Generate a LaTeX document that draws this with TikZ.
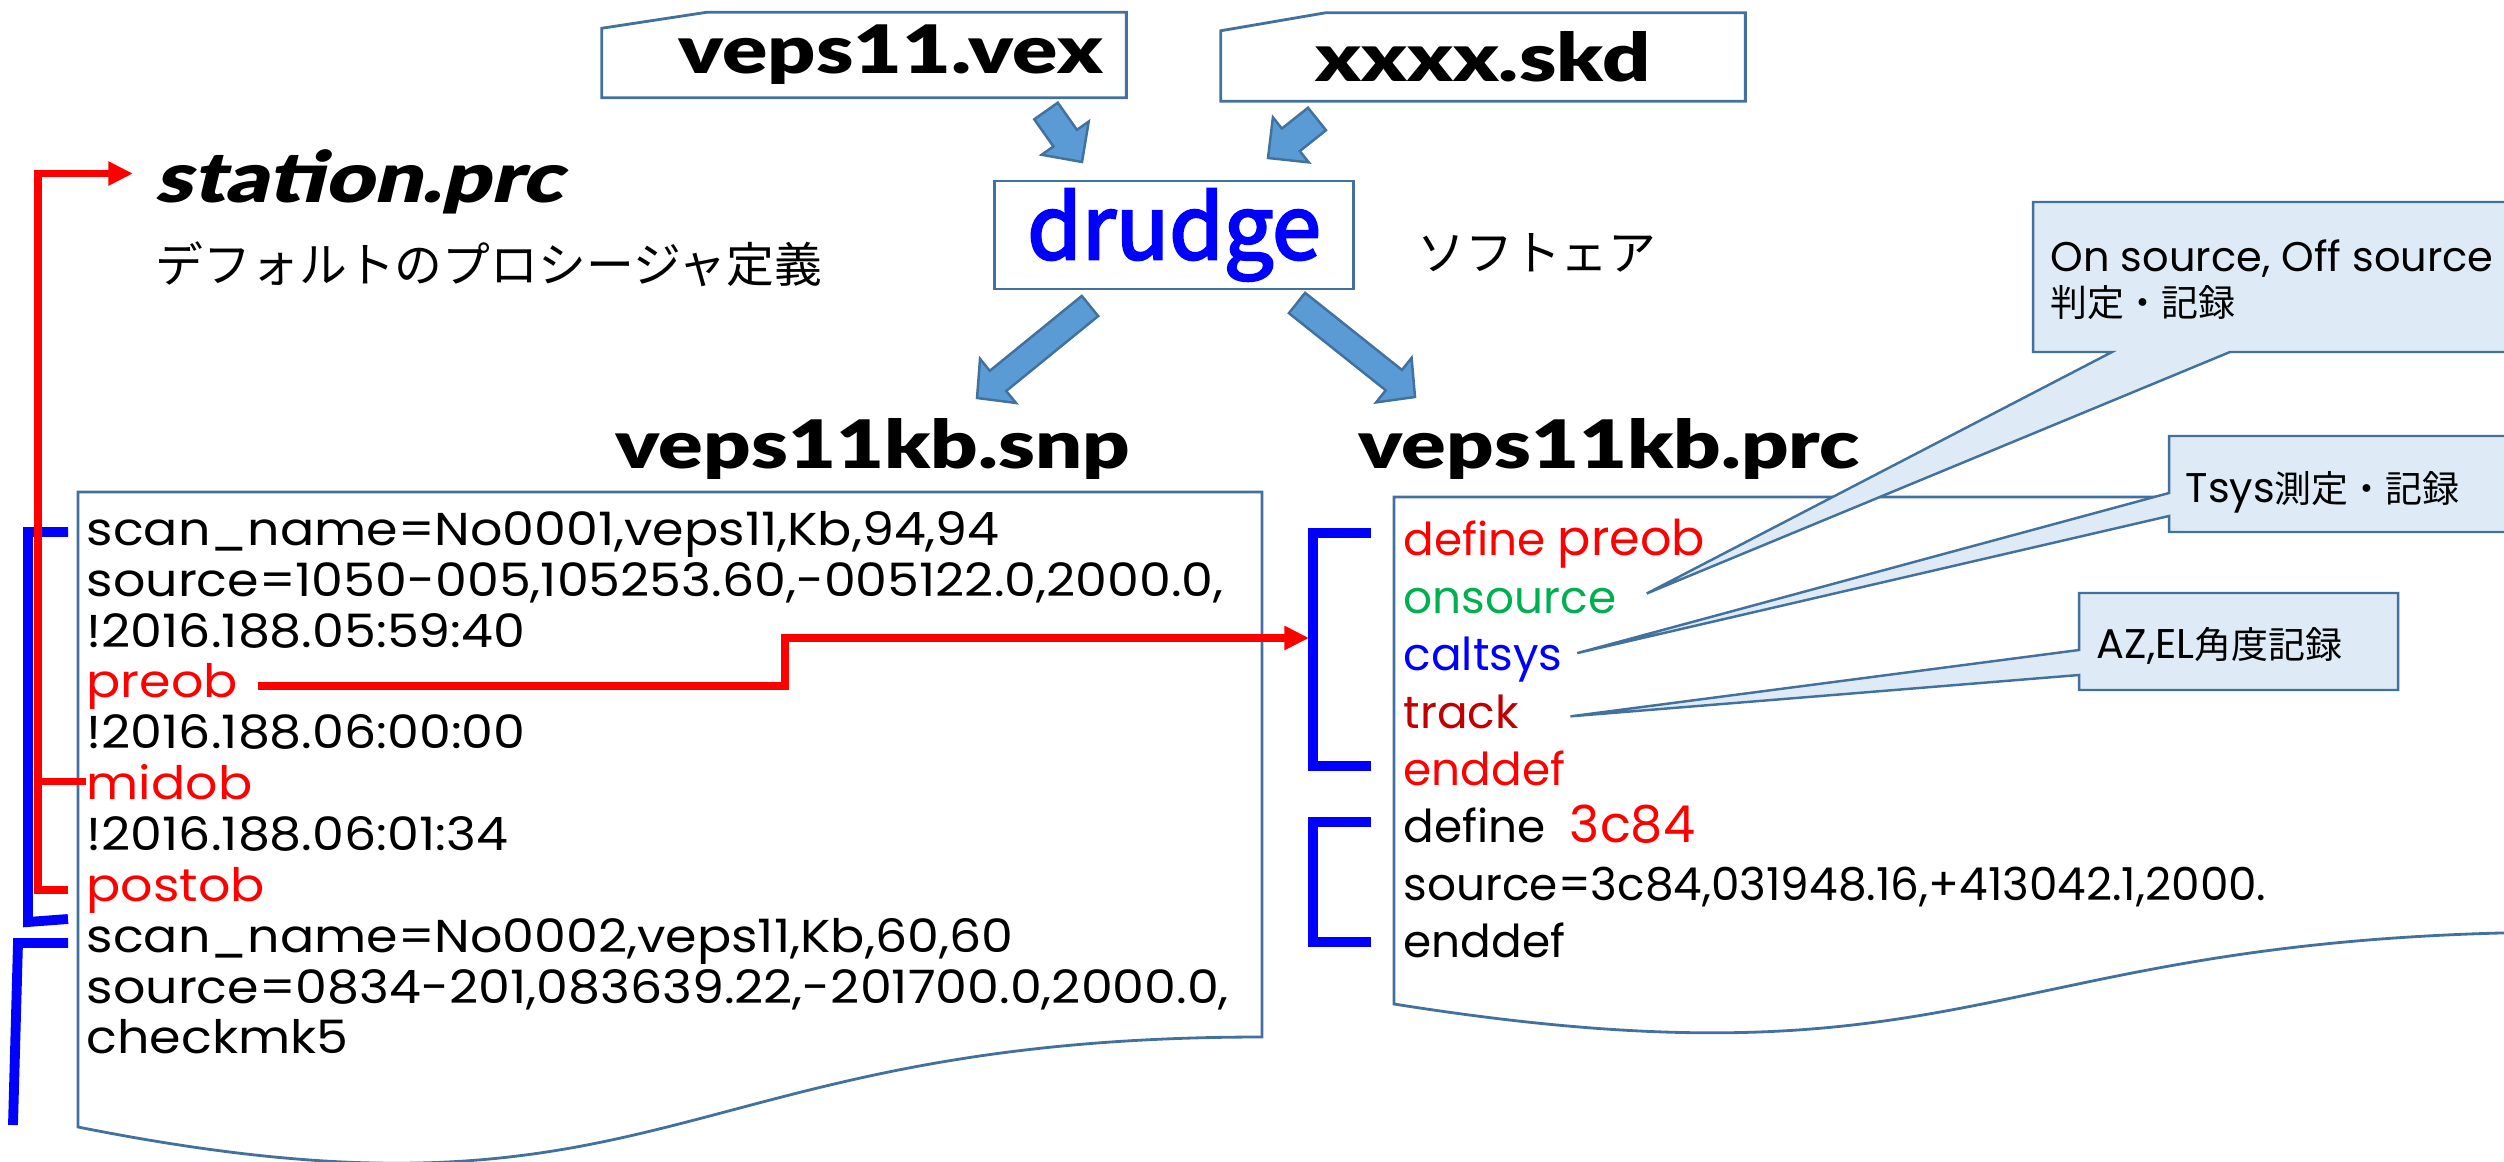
\documentclass[tikz,border=0pt]{standalone}
\usepackage{fontspec}
\usepackage{graphicx}
\usetikzlibrary{arrows.meta,calc,positioning}
\setmainfont{Poppins}
\newfontfamily\snpfont{Poppins}[FakeStretch=1.1]
\newfontfamily\jpfont{Noto Sans CJK JP}
\newfontfamily\drfont{Noto Sans CJK JP}[FakeBold=3]
\newfontfamily\heavyfont{Lato Black}
\newfontfamily\heavyitfont{Lato Black}[FakeSlant=0.2]
\definecolor{boxline}{RGB}{65,113,156}
\definecolor{calloutfill}{RGB}{222,235,247}
\definecolor{arrowfill}{RGB}{91,155,213}
\definecolor{okgreen}{RGB}{0,176,80}
\definecolor{darkred}{RGB}{192,0,0}
\newcommand\wide[2][1.26]{\scalebox{#1}[1]{#2}}
% block arrow: tail, tip, half shaft, half head, head length
\newcommand\blockarrow[5]{%
  \coordinate (ba-b) at ($(#2)!#5!(#1)$);
  \draw[blockarr] ($(#1)!#3!90:(#2)$) -- ($(ba-b)!#3!90:(#2)$) -- ($(ba-b)!#4!90:(#2)$) -- (#2)
    -- ($(ba-b)!#4!-90:(#2)$) -- ($(ba-b)!#3!-90:(#2)$) -- ($(#1)!#3!-90:(#2)$) -- cycle;}

\begin{document}
\begin{tikzpicture}[x=0.01cm,y=-0.01cm,
    line join=miter,
    filebox/.style={inner sep=0pt,minimum width=5.23cm,font=\heavyfont\fontsize{19}{20}\selectfont},
    outline/.style={draw=boxline,line width=0.8pt},
    docbox/.style={draw=boxline,line width=0.8pt},
    title/.style={anchor=base west,inner sep=0pt,font=\heavyfont\fontsize{19}{20}\selectfont},
    jptext/.style={inner sep=0pt,font=\jpfont\fontsize{13.6}{15}\selectfont},
    snptext/.style={anchor=base west,inner sep=0pt,font=\snpfont\fontsize{13.1}{15}\selectfont},
    prctext/.style={anchor=base west,inner sep=0pt,font=\fontsize{12.9}{15}\selectfont},
    calltext/.style={anchor=base west,inner sep=0pt,align=left,font=\fontsize{11.8}{12.8}\selectfont},
    callout/.style={draw=boxline,fill=calloutfill,line width=0.7pt},
    blockarr/.style={draw=boxline,fill=arrowfill,line width=0.7pt},
    redline/.style={draw=red,line width=2.1pt},
    bracket/.style={draw=blue,line width=2.8pt}]

  \useasboundingbox (0,0) rectangle (2504,1161);

  % input files and drudge
  \node[filebox,minimum height=0.84cm] (vex) at (864,55) {\wide{\hspace*{12pt}veps11.vex}};
  \draw[outline] (vex.south west) -- (vex.south east) -- (vex.north east)
    -- ([xshift=1.05cm]vex.north west) -- ([yshift=-0.16cm]vex.north west) -- cycle;
  \node[filebox,minimum height=0.87cm] (skd) at (1483,57) {\wide{xxxx.skd}};
  \draw[outline] (skd.south west) -- (skd.south east) -- (skd.north east)
    -- ([xshift=1.05cm]skd.north west) -- ([yshift=-0.18cm]skd.north west) -- cycle;

  \node[outline,minimum width=3.59cm,minimum height=1.08cm,inner sep=0pt,text=blue,
    font=\drfont\fontsize{25}{26}\selectfont] (drudge) at (1174,235) {drudge};
  \node[jptext] (soft) at (1537,253) {ソフトェア};

  \coordinate (a1t) at (1046,111); \coordinate (a1h) at (1082,162);
  \coordinate (a2t) at (1317,119); \coordinate (a2h) at (1268,158);
  \coordinate (a3t) at (1090,306); \coordinate (a3h) at (977,398);
  \coordinate (a4t) at (1297,303); \coordinate (a4h) at (1415,397);
  \blockarrow{a1t}{a1h}{4.1pt}{8.2pt}{8.3pt}
  \blockarrow{a2t}{a2h}{4.1pt}{8.2pt}{8.3pt}
  \blockarrow{a3t}{a3h}{3.7pt}{8.1pt}{7.7pt}
  \blockarrow{a4t}{a4h}{3.7pt}{8.1pt}{7.7pt}

  % station.prc
  \node[title,font=\heavyitfont\fontsize{20}{21}\selectfont] (station) at (154,203) {\wide[1.2]{station.prc}};
  \node[jptext,anchor=west] (default) at (155,264) {デフォルトのプロシージャ定義};

  % output files
  \node[title] (snp) at (615,468) {\wide[1.24]{veps11kb.snp}};
  \node[title] (prc) at (1358,468) {\wide[1.24]{veps11kb.prc}};

  \draw[docbox] (78,492) -- (1262,492) -- (1262,1037)
    .. controls (670,1037) and (670,1245) .. (78,1127) -- cycle;
  \draw[docbox] (1394,497) -- (2578,497) -- (2578,932)
    .. controls (1986,932) and (1986,1098) .. (1394,1004) -- cycle;

  % veps11kb.snp lines
  \node[snptext] (l1) at (86,545) {scan\_name=No0001,veps11,Kb,94,94};
  \node[snptext] (l2) at (86,596) {source=1050-005,105253.60,-005122.0,2000.0,};
  \node[snptext] (l3) at (86,647) {!2016.188.05:59:40};
  \node[snptext,text=red] (l4) at (86,697) {preob};
  \node[snptext] (l5) at (86,748) {!2016.188.06:00:00};
  \node[snptext,text=red] (l6) at (86,799) {midob};
  \node[snptext] (l7) at (86,850) {!2016.188.06:01:34};
  \node[snptext,text=red] (l8) at (86,901) {postob};
  \node[snptext] (l9) at (86,952) {scan\_name=No0002,veps11,Kb,60,60};
  \node[snptext] (l10) at (86,1003) {source=0834-201,083639.22,-201700.0,2000.0,};
  \node[snptext] (l11) at (86,1053) {checkmk5};

  % veps11kb.prc lines
  \node[prctext,text=red] (p1) at (1403,555) {define {\fontsize{14}{15}\selectfont preob}};
  \node[prctext,text=okgreen] (p2) at (1403,613) {onsource};
  \node[prctext,text=blue] (p3) at (1403,670) {caltsys};
  \node[prctext,text=darkred] (p4) at (1403,728) {track};
  \node[prctext,text=red] (p5) at (1403,785) {enddef};
  \node[prctext] (p6) at (1403,842) {define\ \ {\color{red}\fontsize{14.5}{15}\selectfont 3c84}};
  \node[prctext] (p7) at (1403,900) {source=3c84,031948.16,+413042.1,2000.};
  \node[prctext] (p8) at (1403,957) {enddef};

  % brackets
  \draw[bracket] (68,532) -- (28,532) -- (28,922) -- (68,919);
  \draw[bracket] (68,943) -- (18,943) -- (13,1125);
  \draw[bracket] (1371,533) -- (1313,533) -- (1313,766) -- (1371,766);
  \draw[bracket] (1371,822) -- (1313,822) -- (1313,942) -- (1371,942);

  % red connectors
  \coordinate (prcin) at (1309,638);
  \draw[redline,-{Triangle[length=7pt,width=6.5pt]}] ([xshift=5.4pt]l4.east) -| (785,638) -- (prcin);
  \draw[redline,-{Triangle[length=7pt,width=6.5pt]}] ([xshift=-5pt]l8.west) -| ([xshift=-33pt,yshift=2.5pt]station.west)
    -- ([xshift=-6pt,yshift=2.5pt]station.west);
  \draw[redline] (l6.west) -- ++(-48,0);

  % callouts
  \draw[callout] (2033,202) -- (2560,202) -- (2560,352) -- (2230,352)
    -- ([xshift=8.5pt,yshift=2pt]p2.east) -- (2112,352) -- (2033,352) -- cycle;
  \draw[callout] (2169,436) -- (2560,436) -- (2560,532) -- (2169,532) -- (2169,516)
    -- ([xshift=4pt,yshift=1.7pt]p3.east) -- (2169,493) -- cycle;
  \draw[callout] (2079,593) -- (2398,593) -- (2398,690) -- (2079,690) -- (2079,675)
    -- ([xshift=14.5pt,yshift=-1.4pt]p4.east) -- (2079,650) -- cycle;
  \node[calltext] (c1) at (2050,317) {On source, Off source\\{\jpfont\fontsize{10.5}{12}\selectfont 判定・記録}};
  \node[calltext] (c2) at (2185,502) {Tsys{\jpfont\fontsize{10.5}{12}\selectfont 測定・記録}};
  \node[calltext] (c3) at (2096,658) {AZ,EL{\jpfont\fontsize{10.5}{12}\selectfont 角度記録}};

\end{tikzpicture}
\end{document}
